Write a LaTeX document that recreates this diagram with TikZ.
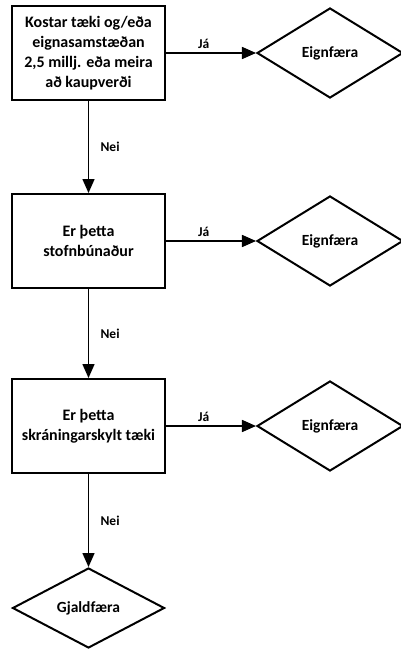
\documentclass[tikz,border=0pt]{standalone}
\usepackage{fontspec}
\setmainfont{Carlito}
\usetikzlibrary{positioning,arrows.meta,shapes.geometric}

\begin{document}
\begin{tikzpicture}[x=1pt,y=1pt, node distance=90pt,
    every node/.style={font=\bfseries},
    question/.style={draw,line width=2pt,minimum width=153pt,minimum height=94pt,inner sep=2pt,align=center,font=\bfseries\fontsize{16}{20}\selectfont},
    outcome/.style={draw,diamond,line width=2pt,minimum width=146pt,minimum height=90pt,inner sep=0pt,font=\bfseries\fontsize{15.5}{18}\selectfont},
    flow/.style={-{Triangle[length=14pt,width=12pt]},line width=1.5pt},
    answer/.style={font=\bfseries\fontsize{13.5}{16}\selectfont}]
        \useasboundingbox (0,0) rectangle (401,-650);
        \node[question] (q1) at (88.5,-53) {Kostar tæki og/eða\\eignasamstæðan\\2,5 millj. eða meira\\að kaupverði};
        \node[question,below=92pt of q1] (q2) {Er þetta\\stofnbúnaður};
        \node[question,below=89pt of q2] (q3) {Er þetta\\skráningarskylt tæki};
        \node[outcome,right=90pt of q1] (e1) {Eignfæra};
        \node[outcome,right=90pt of q2] (e2) {Eignfæra};
        \node[outcome,right=90pt of q3] (e3) {Eignfæra};
        \node[outcome,minimum width=152pt,minimum height=80pt,below=93pt of q3] (g) {Gjaldfæra};
        \draw[flow] (q1) -- node[answer,above,pos=0.42]{Já} (e1);
        \draw[flow] (q2) -- node[answer,above,pos=0.42]{Já} (e2);
        \draw[flow] (q3) -- node[answer,above,pos=0.42]{Já} (e3);
        \draw[flow] (q1) -- node[answer,right=8pt]{Nei} (q2);
        \draw[flow] (q2) -- node[answer,right=8pt]{Nei} (q3);
        \draw[flow] (q3) -- node[answer,right=8pt]{Nei} (g);
\end{tikzpicture}
\end{document}
